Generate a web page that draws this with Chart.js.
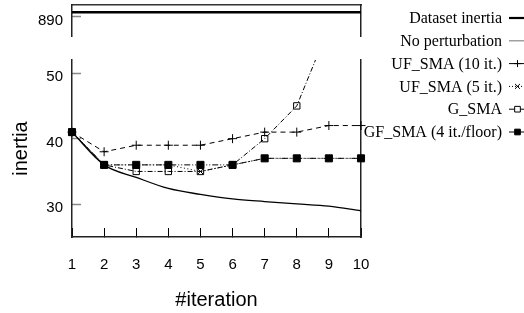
<!DOCTYPE html>
<html>
<head>
<meta charset="utf-8">
<script src="https://cdn.jsdelivr.net/npm/chart.js@4.4.0/dist/chart.umd.min.js"></script>
<style>
  html, body { margin: 0; padding: 0; background: #fff; }
  #wrap { position: relative; width: 524px; height: 313px; overflow: hidden; }
  #wrap canvas { position: absolute; left: 0; top: 0; }
</style>
</head>
<body>
<div id="wrap">
  <canvas id="lowerChart" width="524" height="313"></canvas>
  <canvas id="topChart" width="524" height="313"></canvas>
</div>
<script>
// values
const iterations     = ["1", "2", "3", "4", "5", "6", "7", "8", "9", "10"];
const datasetInertia = [892, 892, 892, 892, 892, 892, 892, 892, 892, 892];
const noPerturbation = [41, 36, 34.1, 32.4, 31.5, 30.8, 30.4, 30.05, 29.7, 29.0];
const ufSma10        = [41, 38, 39, 39, 39, 40, 41, 41, 42, 42];
const ufSma5         = [41, 36, 36, 36, 35, 36, 37, 37, 37, 37];
const gSma           = [41, 36, 35, 35, 35, 36, 40, 45, 57, 70];
const gfSma          = [41, 36, 36, 36, 36, 36, 37, 37, 37, 37];
const seriesNames    = ["Dataset inertia", "No perturbation", "UF_SMA (10 it.)",
                        "UF_SMA (5 it.)", "G_SMA", "GF_SMA (4 it./floor)"];
const lowerTicks     = [30, 40, 50];
const topTicks       = [890];

const SANS  = "'Liberation Sans', Arial, sans-serif";
const SERIF = "'Liberation Serif', 'Times New Roman', serif";
const AXIS  = "#222";

// legend samples (line + marker), same order as seriesNames
const legendStyles = [
  { color: "#000", width: 2.2, dash: [],     marker: null },
  { color: "#888", width: 1.2, dash: [],     marker: null },
  { color: "#000", width: 1,   dash: [],     marker: "cross" },
  { color: "#000", width: 1,   dash: [1, 2], marker: "crossRot" },
  { color: "#000", width: 1,   dash: [],     marker: "rectOpen" },
  { color: "#000", width: 1,   dash: [],     marker: "rectFilled" },
];

const legendPlugin = {
  id: "sideLegend",
  afterDraw(chart) {
    const ctx = chart.ctx;
    ctx.save();
    ctx.font = "16px " + SERIF;
    ctx.textAlign = "right";
    ctx.textBaseline = "middle";
    seriesNames.forEach((name, i) => {
      const y = 18 + i * 22.8;
      const s = legendStyles[i];
      ctx.fillStyle = "#000";
      ctx.fillText(name, 502, y + 1);
      ctx.strokeStyle = s.color;
      ctx.lineWidth = s.width;
      ctx.setLineDash(s.dash);
      ctx.beginPath();
      ctx.moveTo(509, y);
      ctx.lineTo(524, y);
      ctx.stroke();
      ctx.setLineDash([]);
      if (s.marker) {
        const style = s.marker.startsWith("rect") ? "rect" : s.marker;
        ctx.fillStyle = s.marker === "rectFilled" ? "#000" : "#fff";
        ctx.strokeStyle = "#000";
        ctx.lineWidth = 1;
        Chart.helpers.drawPoint(ctx, { pointStyle: style, radius: style === "rect" ? 4 : 3.5, rotation: 0, borderWidth: 1 }, 517.5, y);
      }
    });
    ctx.restore();
  }
};

function yTicksFrom(values) {
  return scale => { scale.ticks = values.map(v => ({ value: v })); };
}

// fixed axis sizes so the plot boxes land where the reference has them
function fixWidth(w) {
  return scale => { scale.width = w; scale.paddingTop = 0; scale.paddingBottom = 0; };
}
function fixHeight(h) {
  return scale => { scale.height = h; scale.paddingLeft = 0; scale.paddingRight = 0; };
}

const clipBox = { left: 10, right: 10, top: 0, bottom: 10 };

new Chart(document.getElementById("lowerChart"), {
  type: "line",
  data: {
    labels: iterations,
    // listed back to front: the first dataset is painted last
    datasets: [
      {
        label: seriesNames[5], data: gfSma, clip: clipBox,
        borderColor: "#000", borderWidth: 1, borderDash: [6, 2, 1, 2, 1, 2],
        pointStyle: "rect", pointRadius: 5, pointBackgroundColor: "#000", pointBorderColor: "#000",
      },
      {
        label: seriesNames[4], data: gSma, clip: clipBox,
        borderColor: "#000", borderWidth: 1, borderDash: [5, 2, 1, 2],
        pointStyle: "rect", pointRadius: 4.5, pointBorderWidth: 1,
        pointBackgroundColor: "rgba(255,255,255,0)", pointBorderColor: "#000",
      },
      {
        label: seriesNames[3], data: ufSma5, clip: clipBox,
        borderColor: "#000", borderWidth: 1, borderDash: [1, 2.5],
        pointStyle: "crossRot", pointRadius: 4, pointBorderWidth: 1, pointBorderColor: "#000",
      },
      {
        label: seriesNames[2], data: ufSma10, clip: clipBox,
        borderColor: "#000", borderWidth: 1, borderDash: [5, 4],
        pointStyle: "cross", pointRadius: 4.5, pointBorderWidth: 1, pointBorderColor: "#000",
      },
      {
        label: seriesNames[1], data: noPerturbation, clip: clipBox,
        borderColor: "#000", borderWidth: 1.3, pointRadius: 0,
        cubicInterpolationMode: "monotone",
      },
    ],
  },
  options: {
    responsive: false,
    animation: false,
    devicePixelRatio: 1,
    layout: { padding: { left: 0, top: 60, right: 163, bottom: 0 } },
    plugins: { legend: { display: false }, tooltip: { enabled: false } },
    scales: {
      x: {
        type: "category",
        position: "bottom",
        offset: false,
        grid: { drawOnChartArea: false, offset: false, tickLength: -9, tickColor: "#000", tickWidth: 1 },
        border: { color: AXIS, width: 1.5 },
        ticks: { color: "#000", font: { family: SANS, size: 15 }, padding: 28, maxRotation: 0, autoSkip: false },
        title: { display: true, text: "#iteration", color: "#000", font: { family: SANS, size: 20 }, padding: { top: 0, bottom: 1 } },
        afterFit: fixHeight(76),
      },
      y: {
        type: "linear",
        position: "left",
        min: 25,
        max: 52,
        afterBuildTicks: yTicksFrom(lowerTicks),
        grid: { drawOnChartArea: false, tickLength: -9, tickColor: "#888", tickWidth: 1.5 },
        border: { color: AXIS, width: 1.5 },
        ticks: { color: "#000", font: { family: SANS, size: 15 }, padding: 18, labelOffset: 4 },
        title: { display: true, text: "inertia", color: "#000", font: { family: SANS, size: 20 }, padding: { top: 9, bottom: 0 } },
        afterFit: fixWidth(72),
      },
      yRight: {
        type: "linear",
        position: "right",
        min: 25,
        max: 52,
        grid: { display: false },
        ticks: { display: false },
        border: { color: AXIS, width: 1.5 },
        afterFit: fixWidth(0),
      },
    },
  },
  plugins: [legendPlugin],
});

new Chart(document.getElementById("topChart"), {
  type: "line",
  data: {
    labels: iterations,
    datasets: [{
      label: seriesNames[0], data: datasetInertia,
      borderColor: "#000", borderWidth: 2.5, pointRadius: 0,
    }],
  },
  options: {
    responsive: false,
    animation: false,
    devicePixelRatio: 1,
    layout: { padding: { left: 0, top: 5, right: 163, bottom: 277 } },
    plugins: { legend: { display: false }, tooltip: { enabled: false } },
    scales: {
      x: {
        type: "category",
        position: "top",
        offset: false,
        grid: { display: false },
        ticks: { display: false },
        border: { color: "#333", width: 1.5 },
        afterFit: fixHeight(0),
      },
      y: {
        type: "linear",
        position: "left",
        min: 882,
        max: 895,
        afterBuildTicks: yTicksFrom(topTicks),
        grid: { drawOnChartArea: false, tickLength: -9, tickColor: "#888", tickWidth: 1.5 },
        border: { color: AXIS, width: 1.5 },
        ticks: { color: "#000", font: { family: SANS, size: 15 }, padding: 18, labelOffset: 4 },
        afterFit: fixWidth(72),
      },
      yRight: {
        type: "linear",
        position: "right",
        min: 882,
        max: 895,
        grid: { display: false },
        ticks: { display: false },
        border: { color: AXIS, width: 1.5 },
        afterFit: fixWidth(0),
      },
    },
  },
});
</script>
</body>
</html>
